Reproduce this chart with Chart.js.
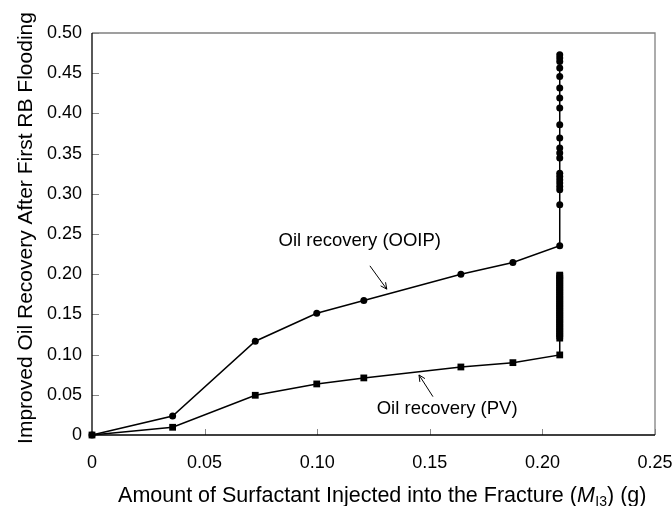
<!DOCTYPE html>
<html><head><meta charset="utf-8">
<script src="https://cdn.jsdelivr.net/npm/chart.js@4/dist/chart.umd.min.js"></script>
<style>html,body{margin:0;padding:0;background:#fff;}</style>
</head><body>
<canvas id="c" width="672" height="506"></canvas>
<script>
// ---- data ----
const injected = [0, 0.0358, 0.0725, 0.0998, 0.1207, 0.1638, 0.1869, 0.2077];
const recoveryOOIP = [0, 0.0236, 0.1166, 0.1515, 0.1672, 0.2000, 0.2145, 0.2353];
const recoveryPV = [0, 0.0096, 0.0494, 0.0635, 0.0710, 0.0846, 0.0900, 0.0996];
const finalInjected = 0.2077;
const ooipTail = [0.2863, 0.3050, 0.3091, 0.3133, 0.3174, 0.3216, 0.3257, 0.3444, 0.3506, 0.3569,
                  0.3693, 0.3859, 0.4067, 0.4190, 0.4315, 0.4460, 0.4564, 0.4646, 0.4690, 0.4730];
const pvTail = [0.1205, 0.1233, 0.1262, 0.1290, 0.1319, 0.1347, 0.1376, 0.1404, 0.1433, 0.1461,
                0.1490, 0.1518, 0.1547, 0.1575, 0.1604, 0.1632, 0.1661, 0.1689, 0.1718, 0.1746,
                0.1775, 0.1803, 0.1832, 0.1860, 0.1889, 0.1917, 0.1946, 0.1974, 0.1989];
const xTicks = [0, 0.05, 0.10, 0.15, 0.20, 0.25];
const yTicks = [0, 0.05, 0.10, 0.15, 0.20, 0.25, 0.30, 0.35, 0.40, 0.45, 0.50];
const yTitle = 'Improved Oil Recovery After First RB Flooding';
const xTitleParts = ['Amount of Surfactant Injected into the Fracture (', 'M', 'I3', ') (g)'];
const labelOOIP = 'Oil recovery (OOIP)';
const labelPV = 'Oil recovery (PV)';
// annotation anchors in data units: [textX, textY, arrowFromX, arrowFromY, arrowToX, arrowToY]
const annotOOIP = [0.1189, 0.2418, 0.1234, 0.2104, 0.1309, 0.1814];
const annotPV = [0.1577, 0.0320, 0.1514, 0.0477, 0.1452, 0.0747];

const FONT = "'Liberation Sans', Arial, Helvetica, sans-serif";
const ooipPoints = injected.map((x, i) => ({x, y: recoveryOOIP[i]}))
  .concat(ooipTail.map(y => ({x: finalInjected, y})));
const pvPoints = injected.map((x, i) => ({x, y: recoveryPV[i]}))
  .concat(pvTail.map(y => ({x: finalInjected, y})));

const fmt = v => Math.abs(v) < 1e-9 ? '0' : Number(v).toFixed(2);

const decor = {
  id: 'decor',
  beforeDatasetsDraw(chart) {
    const {ctx, chartArea: a, scales: {x, y}} = chart;
    ctx.save();
    ctx.strokeStyle = '#888';
    ctx.lineWidth = 1;
    xTicks.forEach(v => {
      if (v === 0) return;
      const px = Math.round(x.getPixelForValue(v)) + 0.5;
      ctx.beginPath(); ctx.moveTo(px, a.bottom); ctx.lineTo(px, a.bottom - 6); ctx.stroke();
    });
    yTicks.forEach(v => {
      if (v === 0) return;
      const py = Math.round(y.getPixelForValue(v)) + 0.5;
      ctx.beginPath(); ctx.moveTo(a.left, py); ctx.lineTo(a.left + 7, py); ctx.stroke();
    });
    ctx.strokeStyle = '#808080';
    ctx.lineWidth = 1.3;
    ctx.beginPath();
    ctx.moveTo(a.left, a.top); ctx.lineTo(a.right, a.top); ctx.lineTo(a.right, a.bottom);
    ctx.stroke();
    ctx.strokeStyle = '#000';
    ctx.lineWidth = 1.3;
    ctx.beginPath();
    ctx.moveTo(a.left, a.top); ctx.lineTo(a.left, a.bottom); ctx.lineTo(a.right, a.bottom);
    ctx.stroke();
    ctx.restore();
  },
  afterDraw(chart) {
    const {ctx, scales: {x, y}} = chart;
    ctx.save();
    ctx.fillStyle = '#000';
    ctx.font = `21px ${FONT}`;
    ctx.textAlign = 'center';
    ctx.textBaseline = 'alphabetic';
    ctx.translate(32, 228);
    ctx.rotate(-Math.PI / 2);
    ctx.fillText(yTitle, 0, 0);
    ctx.setTransform(1, 0, 0, 1, 0, 0);
    const fN = `21.5px ${FONT}`, fI = `italic 21.5px ${FONT}`, fS = `14px ${FONT}`;
    ctx.textAlign = 'left';
    const w = [fN, fI, fS, fN].map((f, i) => { ctx.font = f; return ctx.measureText(xTitleParts[i]).width; });
    const total = w.reduce((s, v) => s + v, 0);
    let cx = 382 - total / 2;
    const base = 502;
    [fN, fI, fS, fN].forEach((f, i) => {
      ctx.font = f;
      ctx.fillText(xTitleParts[i], cx, i === 2 ? base + 4 : base);
      cx += w[i] + (i === 1 ? 0.5 : 0);
    });
    ctx.font = `18.5px ${FONT}`;
    ctx.textAlign = 'center';
    ctx.textBaseline = 'middle';
    [[labelOOIP, annotOOIP], [labelPV, annotPV]].forEach(([t, an]) => {
      ctx.fillText(t, x.getPixelForValue(an[0]), y.getPixelForValue(an[1]));
      const x1 = x.getPixelForValue(an[2]), y1 = y.getPixelForValue(an[3]);
      const x2 = x.getPixelForValue(an[4]), y2 = y.getPixelForValue(an[5]);
      ctx.strokeStyle = '#000'; ctx.lineWidth = 1;
      ctx.beginPath(); ctx.moveTo(x1, y1); ctx.lineTo(x2, y2); ctx.stroke();
      const ang = Math.atan2(y2 - y1, x2 - x1), L = 7, sp = 0.45;
      ctx.beginPath();
      ctx.moveTo(x2 - L * Math.cos(ang - sp), y2 - L * Math.sin(ang - sp));
      ctx.lineTo(x2, y2);
      ctx.lineTo(x2 - L * Math.cos(ang + sp), y2 - L * Math.sin(ang + sp));
      ctx.stroke();
    });
    ctx.restore();
  }
};

new Chart(document.getElementById('c'), {
  type: 'scatter',
  data: {
    datasets: [
      {label: labelOOIP, data: ooipPoints, showLine: true, borderColor: '#000', borderWidth: 1.5,
       pointStyle: 'circle', pointRadius: 3.5, pointBackgroundColor: '#000', pointBorderColor: '#000',
       pointBorderWidth: 0, clip: false, tension: 0},
      {label: labelPV, data: pvPoints, showLine: true, borderColor: '#000', borderWidth: 1.5,
       pointStyle: 'rect', pointRadius: 4.8, pointBackgroundColor: '#000', pointBorderColor: '#000',
       pointBorderWidth: 0, clip: false, tension: 0}
    ]
  },
  options: {
    responsive: false, animation: false, devicePixelRatio: 1,
    layout: {padding: {top: 33, right: 17, left: 0, bottom: 0}},
    plugins: {legend: {display: false}, tooltip: {enabled: false}},
    scales: {
      x: {type: 'linear', min: 0, max: 0.25,
          afterBuildTicks: s => { s.ticks = xTicks.map(v => ({value: v})); },
          ticks: {callback: fmt, color: '#000', font: {family: FONT, size: 18}, padding: 17, maxRotation: 0, autoSkip: false},
          grid: {display: false, drawTicks: false}, border: {display: false},
          afterFit: s => { s.height = 71; s.paddingLeft = 0; s.paddingRight = 0; }},
      y: {type: 'linear', min: 0, max: 0.5,
          afterBuildTicks: s => { s.ticks = yTicks.map(v => ({value: v})); },
          ticks: {callback: fmt, color: '#000', font: {family: FONT, size: 18}, padding: 10, autoSkip: false},
          grid: {display: false, drawTicks: false}, border: {display: false},
          afterFit: s => { s.width = 92; s.paddingTop = 0; s.paddingBottom = 0; }}
    }
  },
  plugins: [decor]
});
</script>
</body></html>
